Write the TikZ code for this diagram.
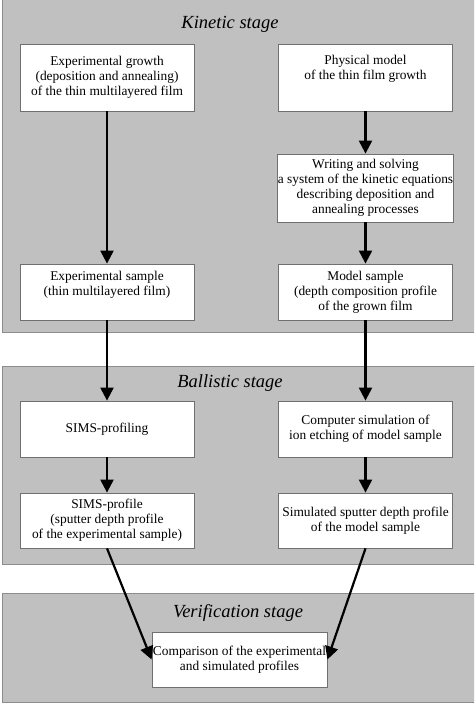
\documentclass[tikz,border=0pt]{standalone}
\usepackage{fontspec}
\setmainfont{Liberation Serif}
\usetikzlibrary{arrows.meta}
\definecolor{bandgray}{HTML}{C0C0C0}
\definecolor{bandline}{HTML}{8C8C8C}
\definecolor{boxline}{HTML}{707070}
\begin{document}
\begin{tikzpicture}[x=1pt,y=-1pt,
  box/.style={draw=boxline, fill=white, line width=0.8pt, minimum width=174pt, align=center, inner sep=0pt, font=\fontsize{13.4}{15}\selectfont},
  title/.style={font=\fontsize{18.5}{20}\selectfont\itshape, inner sep=0pt},
  flow/.style={line width=2.2pt, -{Triangle[width=13pt,length=13pt]}},
  band/.style={fill=bandgray, draw=bandline, line width=0.8pt}]
\useasboundingbox[fill=white] (0,0) rectangle (474,704);
\begin{scope}
\clip (0,0) rectangle (474,704);
\draw[band] (2.5,-2) rectangle (480,332);
\draw[band] (2.5,366) rectangle (480,564);
\draw[band] (2.5,593) rectangle (480,702);
\end{scope}
\node[title] (tk) at (230,24) {Kinetic stage};
\node[title] (tb) at (230,383) {Ballistic stage};
\node[title] (tv) at (238,613) {Verification stage};
\node[box, minimum height=67pt] (eg) at (107,77.5) {Experimental growth\\(deposition and annealing)\\of the thin multilayered film};
\node[box, minimum height=67pt] (pm) at (365.5,77.5) {Physical model\\of the thin film growth\\[6pt]};
\node[box, minimum height=68pt] (ws) at (365.5,188) {Writing and solving\\a system of the kinetic equations\\describing deposition and\\annealing processes};
\node[box, minimum height=56pt] (es) at (107,292) {Experimental sample\\(thin multilayered film)\\[3pt]};
\node[box, minimum height=56pt] (ms) at (365.5,292) {Model sample\\(depth composition profile\\of the grown film};
\node[box, minimum height=56pt] (sp) at (107,429) {SIMS-profiling};
\node[box, minimum height=56pt] (cs) at (365.5,429) {Computer simulation of\\ion etching of model sample};
\node[box, minimum height=55pt] (sf) at (107,520.5) {SIMS-profile\\(sputter depth profile\\of the experimental sample)};
\node[box, minimum height=55pt] (ss) at (365.5,520.5) {Simulated sputter depth profile\\of the model sample};
\node[box, minimum width=175pt, minimum height=55pt] (cp) at (239.5,659.5) {Comparison of the experimental\\and simulated profiles};
\draw[flow] (eg) -- (es);
\draw[flow] (pm) -- (ws);
\draw[flow] (ws) -- (ms);
\draw[flow] (es) -- (sp);
\draw[flow] (ms) -- (cs);
\draw[flow] (sp) -- (sf);
\draw[flow] (cs) -- (ss);
\draw[flow] (sf.south) -- (cp.west);
\draw[flow] (ss.south) -- (cp.east);
\end{tikzpicture}
\end{document}
